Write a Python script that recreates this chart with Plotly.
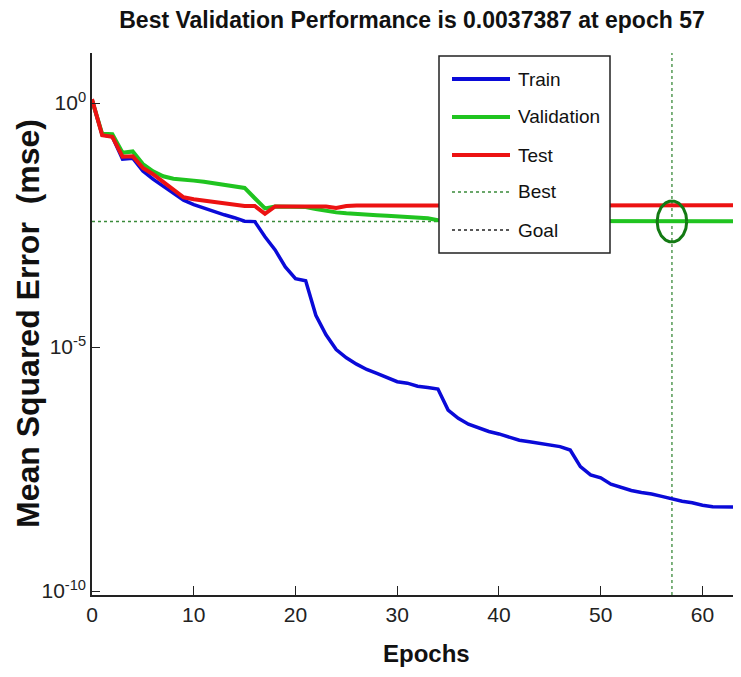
import numpy as np
import plotly.graph_objects as go

# Training record of the network (mean squared error per epoch)
epochs = list(range(0, 64))

train_mse = [
    1.15, 0.224, 0.204, 0.0708, 0.0741, 0.0407, 0.0275, 0.0200, 0.0145, 0.0102,
    0.00832, 0.00708, 0.00589, 0.00513, 0.00447, 0.00380, 0.00372, 0.00182, 0.000977, 0.000437,
    0.000251, 0.000229, 4.47e-5, 1.78e-5, 8.91e-6, 6.03e-6, 4.47e-6, 3.47e-6, 2.88e-6, 2.40e-6,
    1.95e-6, 1.82e-6, 1.58e-6, 1.48e-6, 1.38e-6, 5.13e-7, 3.47e-7, 2.63e-7, 2.19e-7, 1.86e-7,
    1.66e-7, 1.41e-7, 1.23e-7, 1.15e-7, 1.07e-7, 9.77e-8, 9.12e-8, 7.76e-8, 3.55e-8, 2.40e-8,
    2.09e-8, 1.55e-8, 1.35e-8, 1.15e-8, 1.05e-8, 9.77e-9, 8.71e-9, 7.76e-9, 6.92e-9, 6.46e-9,
    5.75e-9, 5.37e-9, 5.33e-9, 5.30e-9,
]

validation_mse = [
    1.15, 0.234, 0.229, 0.0955, 0.102, 0.0562, 0.0398, 0.0316, 0.0282, 0.0263,
    0.0257, 0.0245, 0.0229, 0.0209, 0.0191, 0.0182, 0.0112, 0.00692, 0.00759, 0.00759,
    0.00759, 0.00741, 0.00676, 0.00617, 0.00575, 0.00550, 0.00525, 0.00513, 0.00501, 0.00490,
    0.00479, 0.00468, 0.00457, 0.00437, 0.00398, 0.00389, 0.00386, 0.00384, 0.00382, 0.00381,
    0.00380, 0.00379, 0.00378, 0.00378, 0.00377, 0.00377, 0.00376, 0.00376, 0.00376, 0.00375,
    0.00375, 0.00375, 0.00375, 0.00374, 0.00374, 0.00374, 0.00374, 0.0037387, 0.00375, 0.00376,
    0.00376, 0.00377, 0.00377, 0.00378,
]

test_mse = [
    1.20, 0.219, 0.204, 0.0794, 0.0813, 0.0468, 0.0347, 0.0240, 0.0166, 0.0117,
    0.0107, 0.0100, 0.00933, 0.00851, 0.00794, 0.00776, 0.00776, 0.00537, 0.00759, 0.00759,
    0.00759, 0.00759, 0.00759, 0.00759, 0.00708, 0.00776, 0.00794, 0.00794, 0.00794, 0.00794,
    0.00794, 0.00794, 0.00794, 0.00794, 0.00794, 0.00794, 0.00794, 0.00794, 0.00794, 0.00794,
    0.00794, 0.00805, 0.00805, 0.00805, 0.00805, 0.00805, 0.00805, 0.00805, 0.00805, 0.00805,
    0.00805, 0.00805, 0.00805, 0.00805, 0.00805, 0.00805, 0.00805, 0.00805, 0.00805, 0.00805,
    0.00805, 0.00805, 0.00805, 0.00805,
]

best_epoch = 57
best_perf = 0.0037387

x_ticks = [0, 10, 20, 30, 40, 50, 60]
y_ticks = [1e0, 1e-5, 1e-10]
y_tick_text = ["10<sup>0</sup>", "10<sup>-5</sup>", "10<sup>-10</sup>"]

legend_names = ["Train", "Validation", "Test", "Best", "Goal"]

# Styling
C_TRAIN = "#0a0ad8"
C_VAL = "#20c420"
C_TEST = "#ec1212"
C_BEST = "#3a8a3a"
C_CIRCLE = "#137a13"
FONT = "Liberation Sans, Arial, Helvetica, sans-serif"

X_RANGE = [0, 63]
Y_RANGE = [-10.08, 1.025]  # log10 units

W, H = 741, 677
ML, MR, MT, MB = 92, 8, 53, 82
PW, PH = W - ML - MR, H - MT - MB


def px_x(p):
    return (p - ML) / PW


def px_y(p):
    return 1 - (p - MT) / PH


fig = go.Figure()

# Best-epoch guide lines
fig.add_trace(go.Scatter(
    x=X_RANGE, y=[best_perf, best_perf], mode="lines",
    line=dict(color=C_BEST, width=1.3, dash="dot"), hoverinfo="skip"))
fig.add_trace(go.Scatter(
    x=[best_epoch, best_epoch], y=[10 ** Y_RANGE[0], 10 ** Y_RANGE[1]], mode="lines",
    line=dict(color=C_BEST, width=1.3, dash="dot"), hoverinfo="skip"))

# Performance curves
fig.add_trace(go.Scatter(x=epochs, y=train_mse, mode="lines", name="Train",
                         line=dict(color=C_TRAIN, width=3.5)))
fig.add_trace(go.Scatter(x=epochs, y=validation_mse, mode="lines", name="Validation",
                         line=dict(color=C_VAL, width=4)))
fig.add_trace(go.Scatter(x=epochs, y=test_mse, mode="lines", name="Test",
                         line=dict(color=C_TEST, width=4)))

# Ellipse marking the best validation point (radii in epochs / decades)
t = np.linspace(0, 2 * np.pi, 120)
rx, ry = 1.45, 0.42
fig.add_trace(go.Scatter(
    x=best_epoch + rx * np.cos(t),
    y=10 ** (np.log10(best_perf) + ry * np.sin(t)),
    mode="lines", line=dict(color=C_CIRCLE, width=3), hoverinfo="skip"))

# Legend box drawn by hand
shapes = [dict(type="rect", xref="paper", yref="paper",
               x0=px_x(439), x1=px_x(610), y0=px_y(253), y1=px_y(56),
               line=dict(color="#222", width=1.5), fillcolor="white", layer="above")]
styles = [
    dict(color=C_TRAIN, width=4, dash="solid"),
    dict(color=C_VAL, width=4, dash="solid"),
    dict(color=C_TEST, width=4, dash="solid"),
    dict(color=C_BEST, width=1.3, dash="dot"),
    dict(color="#222", width=1.3, dash="dot"),
]
row_y = [79, 117, 155, 192, 230]
annotations = []
for name, st, ry_px in zip(legend_names, styles, row_y):
    shapes.append(dict(type="line", xref="paper", yref="paper",
                       x0=px_x(452), x1=px_x(510), y0=px_y(ry_px), y1=px_y(ry_px),
                       line=st, layer="above"))
    annotations.append(dict(text=name, xref="paper", yref="paper",
                            x=px_x(516), y=px_y(ry_px), xanchor="left", yanchor="middle",
                            showarrow=False, font=dict(family=FONT, size=19, color="#111")))

# Axis titles
annotations.append(dict(text="<b>Epochs</b>", xref="paper", yref="paper",
                        x=px_x(426), y=px_y(653), xanchor="center", yanchor="middle",
                        showarrow=False, font=dict(family=FONT, size=24, color="#111")))
annotations.append(dict(text="<b>Mean Squared Error  (mse)</b>", xref="paper", yref="paper",
                        x=px_x(28), y=0.5, xanchor="center", yanchor="middle", textangle=-90,
                        showarrow=False, font=dict(family=FONT, size=32, color="#111")))

fig.update_layout(
    width=W, height=H,
    margin=dict(l=ML, r=MR, t=MT, b=MB),
    paper_bgcolor="white", plot_bgcolor="white",
    showlegend=False,
    title=dict(text="<b>Best Validation Performance is 0.0037387 at epoch 57</b>",
               x=px_x(412), xref="paper", xanchor="center",
               y=1 - 20 / H, yref="container", yanchor="middle",
               font=dict(family=FONT, size=23, color="#111")),
    shapes=shapes, annotations=annotations,
)

fig.update_xaxes(
    range=X_RANGE, tickvals=x_ticks, ticks="inside", ticklen=9, tickwidth=1.3,
    tickcolor="#222", showline=True, linecolor="#222", linewidth=1.5, mirror=False,
    showgrid=False, zeroline=False,
    tickfont=dict(family=FONT, size=21, color="#222"),
)
fig.update_yaxes(
    type="log", range=Y_RANGE, tickvals=y_ticks, ticktext=y_tick_text,
    ticks="inside", ticklen=8, tickwidth=1.3, tickcolor="#222",
    showline=True, linecolor="#222", linewidth=1.5, mirror=False,
    showgrid=False, zeroline=False,
    tickfont=dict(family=FONT, size=21, color="#222"),
)

fig.write_html("out.html")
